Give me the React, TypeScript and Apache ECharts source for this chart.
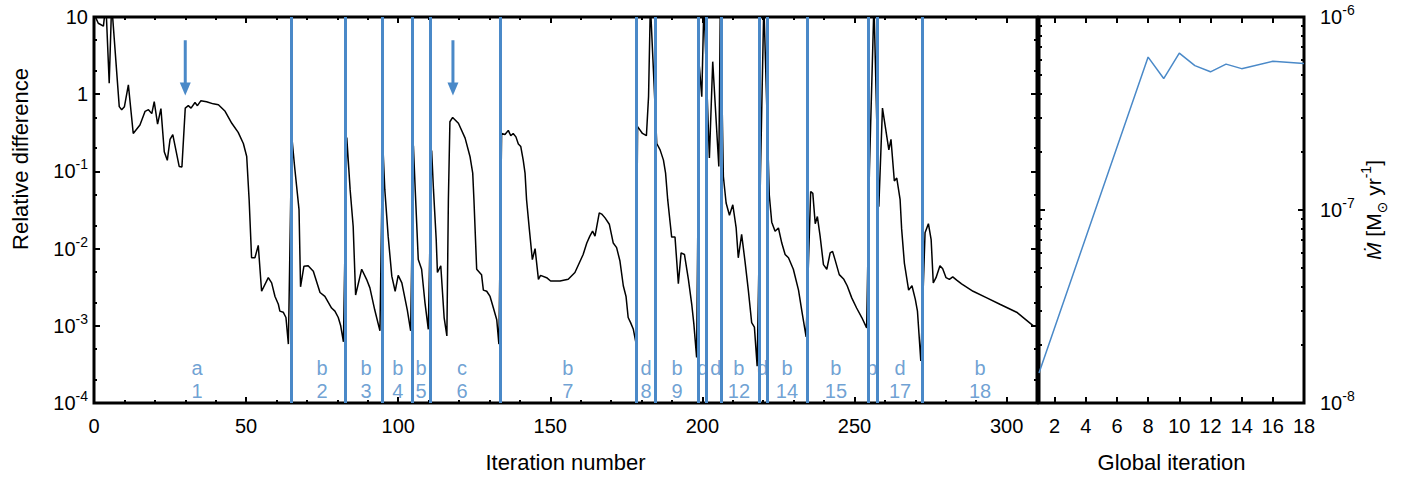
import React, { useEffect, useRef } from 'react';
import * as echarts from 'echarts';

const BLUE = '#4a89c8';
const FONT = "'Liberation Sans', Arial, Helvetica, 'DejaVu Sans', sans-serif";

// Relative difference vs iteration number, segments 1-6
const relDiffA: [number, number][] = [
  [0, 11], [1.4, 8.3], [3.1, 7.6], [3.9, 15], [5, 1.39], [5.8, 15], [8.3, 0.69], [9.1, 0.63], [10, 0.69], [11.3, 1.32],
  [12.9, 0.31], [15.1, 0.4], [16.8, 0.6], [17.9, 0.63], [19, 0.56], [19.8, 0.8], [20.9, 0.41], [22, 0.65], [23.1, 0.18], [24.1, 0.139],
  [25, 0.26], [25.9, 0.3], [28, 0.116], [28.9, 0.114], [30, 0.66], [31, 0.71], [31.9, 0.66], [33.2, 0.78], [34, 0.71], [35.1, 0.82],
  [37, 0.8], [39.2, 0.75], [40.9, 0.73], [43.1, 0.6], [45.3, 0.42], [47.4, 0.32], [49.1, 0.23], [50.2, 0.156], [51, 0.043], [51.8, 0.0076],
  [52.9, 0.0076], [54, 0.011], [55.1, 0.0028], [57.3, 0.0042], [58.4, 0.0036], [59.5, 0.0024], [60.6, 0.0019], [61.1, 0.00155], [62.2, 0.0015], [63.1, 0.00128],
  [63.9, 0.00058],
  [65, 0.29], [66, 0.11], [67.4, 0.032], [67.9, 0.0032], [69, 0.0059], [70.4, 0.006], [72.1, 0.0051], [74.3, 0.0027], [75.9, 0.0024], [78.1, 0.0017],
  [79.2, 0.00155], [80.3, 0.00128], [81.1, 0.001], [82, 0.00062],
  [83.1, 0.275], [84.2, 0.058], [85.2, 0.0195], [86, 0.0025], [88, 0.0054], [89.6, 0.004], [90.7, 0.0031], [92.3, 0.0016], [94, 0.00086],
  [94.9, 0.244], [95.6, 0.058], [96.7, 0.0145], [97.9, 0.0044], [99, 0.0028], [100, 0.0045], [101.2, 0.0036], [103, 0.0016], [104.1, 0.00086],
  [105, 0.215], [105.6, 0.058], [106.6, 0.0072], [107.7, 0.0054], [108.8, 0.002], [109.9, 0.0009],
  [111, 0.187], [111.6, 0.058], [112.5, 0.013], [112.9, 0.0049], [114, 0.006], [115.1, 0.00128], [116, 0.00074], [116.5, 0.043], [117, 0.44], [117.9, 0.5],
  [119.8, 0.42], [122, 0.27], [123.6, 0.156], [124.5, 0.095], [124.9, 0.043], [125.8, 0.0054], [127.4, 0.0046], [128, 0.0029], [129.1, 0.0028], [130.2, 0.0024],
  [131.3, 0.0017], [132.4, 0.0012], [133.1, 0.00058],
];

// segments 7-12
const relDiffB: [number, number][] = [
  [134, 0.31], [135.1, 0.3], [136.2, 0.34], [137, 0.29], [137.8, 0.31], [138.7, 0.28], [139.5, 0.227], [140.3, 0.21], [141.1, 0.14], [141.7, 0.095],
  [142.2, 0.043], [143.1, 0.018], [144.1, 0.0072], [145, 0.01], [146.1, 0.004], [146.8, 0.0045], [148.8, 0.0042], [150.1, 0.0038], [153.2, 0.0038], [155.9, 0.004],
  [158.1, 0.0049], [160.8, 0.0084], [162, 0.0118], [163, 0.0145], [163.9, 0.0168], [164.7, 0.0145], [166.1, 0.029], [166.9, 0.028], [168, 0.025], [169.4, 0.0207],
  [170.7, 0.0118], [171.8, 0.0103], [172.9, 0.0069], [174, 0.0033], [174.9, 0.0024], [175.6, 0.00128], [176.4, 0.0011], [177.3, 0.0009], [178.1, 0.00062],
  [178.7, 0.38], [180.3, 0.31], [181.6, 0.29], [182.3, 0.93], [182.9, 15],
  [185, 0.23], [186.1, 0.19], [187.2, 0.14], [187.9, 0.095], [188.6, 0.043], [189.4, 0.0216], [189.9, 0.0141], [191, 0.0141], [192.1, 0.0035], [193, 0.0088],
  [194.1, 0.0084], [195.4, 0.004], [196.5, 0.0019], [197.2, 0.00105], [198.1, 0.00039],
  [199, 2.3], [199.8, 0.93], [200.5, 15],
  [202.3, 0.149], [203.4, 2.64], [205.4, 0.116], [205.9, 15],
  [206.9, 0.086], [207.8, 0.039], [208.9, 0.027], [210, 0.037], [211.1, 0.0185], [211.8, 0.0076], [212.9, 0.0153], [214, 0.0069], [215.1, 0.0029], [216.2, 0.0011],
  [217.1, 0.00096], [218, 0.0003],
];

// segments 13-18
const relDiffC: [number, number][] = [
  [219.1, 0.095], [220.2, 15],
  [222, 0.049], [222.8, 0.022], [223.9, 0.0168], [225, 0.0185], [226.1, 0.0118], [227.2, 0.0084], [228.3, 0.0076], [229.9, 0.0054], [231.6, 0.0029], [232.7, 0.00155],
  [234.1, 0.00072],
  [235.6, 0.055], [236.3, 0.052], [237.1, 0.021], [237.8, 0.026], [238.7, 0.0145], [239.8, 0.0062], [240.9, 0.0054], [242, 0.0088], [242.8, 0.0092], [243.6, 0.0072],
  [245, 0.0046], [246.5, 0.004], [247.6, 0.0033], [249.1, 0.0023], [250.7, 0.0017], [252.4, 0.00128], [254, 0.00094],
  [254.9, 0.1], [256.4, 15],
  [258, 0.035], [259.2, 0.66], [261.3, 0.19], [262, 0.26], [263.1, 0.075], [263.9, 0.082], [265, 0.043], [265.5, 0.018], [266.4, 0.0065], [267.8, 0.0029],
  [268.9, 0.0033], [270, 0.0022], [270.7, 0.00155], [271.8, 0.00035],
  [273.2, 0.016], [274.3, 0.021], [275.2, 0.0131], [275.9, 0.0036], [276.8, 0.0042], [278.1, 0.006], [279, 0.0055], [280.1, 0.0042], [281.2, 0.004], [282.3, 0.0043],
  [283.6, 0.0039], [285.2, 0.0035], [289, 0.0028], [293.5, 0.0023], [297.8, 0.0019], [303.3, 0.0015], [308.8, 0.001],
];

// iterations at which a new sub-iteration starts (blue vertical lines)
const restartIter = [64.7, 82.5, 94.6, 104.6, 110.5, 133.7, 178.4, 184.4, 198.6, 201.4, 206.3, 218.7, 221.2, 234.5, 254.5, 257.5, 272.4];

// segment labels
const segLabelIter = [33.9, 75, 89.4, 99.9, 107.5, 121, 155.8, 181.5, 191.7, 200.1, 204.4, 212, 219.8, 227.8, 243.9, 255.7, 265, 291.3];
const segLetters = ['a', 'b', 'b', 'b', 'b', 'c', 'b', 'd', 'b', 'd', 'd', 'b', 'd', 'b', 'b', 'b', 'd', 'b'];
const segNumbers = ['1', '2', '3', '4', '5', '6', '7', '8', '9', '', '', '12', '', '14', '15', '', '17', '18'];
const SEG_LABEL_VALUE = 2e-4;

// arrows
const arrowIter = [30, 118];
const ARROW_FROM = 5;
const ARROW_TO = 1.17;

// right panel: mass-loss rate vs global iteration
const globalIter = [1, 8, 9, 10, 11, 12, 13, 14, 16, 18];
const massLoss = [1.43e-8, 6.2e-7, 4.8e-7, 6.5e-7, 5.6e-7, 5.2e-7, 5.7e-7, 5.4e-7, 5.9e-7, 5.75e-7];

// ticks
const iterMajorTicks = [0, 50, 100, 150, 200, 250, 300];
const iterMinorTicks = [10, 20, 30, 40, 60, 70, 80, 90, 110, 120, 130, 140, 160, 170, 180, 190, 210, 220, 230, 240, 260, 270, 280, 290];
const globalTicks = [2, 4, 6, 8, 10, 12, 14, 16, 18];
const relMinorTicks = [2e-4, 5e-4, 2e-3, 5e-3, 0.02, 0.05, 0.2, 0.5, 2, 5];
const mdotMinorTicks = [2e-8, 3e-8, 4e-8, 5e-8, 6e-8, 7e-8, 8e-8, 9e-8, 2e-7, 3e-7, 4e-7, 5e-7, 6e-7, 7e-7, 8e-7, 9e-7];

const powRich = {
  b: { fontSize: 20, lineHeight: 28, color: '#000', fontFamily: FONT },
  s: { fontSize: 14, lineHeight: 14, verticalAlign: 'top', color: '#000', fontFamily: FONT },
};
const fmtPow = (v: number) => {
  const e = Math.round(Math.log10(v));
  if (e === 1) return '{b|10}';
  if (e === 0) return '{b|1}';
  return `{b|10}{s|${e}}`;
};

const tick = (len: number, custom?: number[]) => ({
  show: true,
  inside: true,
  length: len,
  lineStyle: { color: '#000', width: 2 },
  ...(custom ? { customValues: custom } : {}),
});

const common = {
  axisLine: { show: false, onZero: false },
  splitLine: { show: false },
  minorTick: { show: false },
  minorSplitLine: { show: false },
};

function xAx(gridIndex: number, position: string, min: number, max: number, ticks: number[], len: number, extra: any = {}) {
  return {
    ...common,
    type: 'value',
    gridIndex,
    position,
    min,
    max,
    axisTick: tick(len, ticks),
    axisLabel: { show: false },
    ...extra,
  };
}

function yAx(gridIndex: number, position: string, min: number, max: number, ticks: number[] | undefined, len: number, extra: any = {}) {
  return {
    ...common,
    type: 'log',
    logBase: 10,
    gridIndex,
    position,
    min,
    max,
    axisTick: tick(len, ticks),
    axisLabel: { show: false },
    ...extra,
  };
}

const nameStyle = { fontSize: 22, color: '#000', fontFamily: FONT };

export default function App() {
  const ref = useRef<HTMLDivElement>(null);
  useEffect(() => {
    const chart = echarts.init(ref.current!, null, { renderer: 'svg' });
    const curve = [...relDiffA, ...relDiffB, ...relDiffC];
    const arrowSeries = arrowIter.map((x) => ({
      type: 'line',
      xAxisIndex: 0,
      yAxisIndex: 0,
      silent: true,
      z: 6,
      showSymbol: true,
      showAllSymbol: true,
      data: [
        { value: [x, ARROW_FROM], symbol: 'none' },
        { value: [x, ARROW_TO], symbol: 'triangle', symbolSize: [11, 13], symbolRotate: 180 },
      ],
      lineStyle: { color: BLUE, width: 3 },
      itemStyle: { color: BLUE, borderWidth: 0 },
    }));
    const option: any = {
      animation: false,
      backgroundColor: '#fff',
      grid: [
        { left: 94, right: 376, top: 17, bottom: 74, show: true, borderColor: '#000', borderWidth: 3, backgroundColor: 'transparent', outerBoundsMode: 'none' },
        { left: 1039, right: 109, top: 17, bottom: 74, show: true, borderColor: '#000', borderWidth: 3, backgroundColor: 'transparent', outerBoundsMode: 'none' },
      ],
      graphic: [
        {
          type: 'text',
          x: 20,
          y: 159,
          rotation: Math.PI / 2,
          style: { text: 'Relative difference', fontSize: 22, fontFamily: FONT, fill: '#000', textAlign: 'center', textVerticalAlign: 'middle' },
        },
      ],
      xAxis: [
        xAx(0, 'bottom', 0, 310, iterMajorTicks, 6, {
          axisLabel: { show: true, customValues: iterMajorTicks, fontSize: 20, lineHeight: 20, color: '#000', fontFamily: FONT, margin: 13 },
          name: 'Iteration number',
          nameLocation: 'middle',
          nameGap: 48,
          nameTextStyle: nameStyle,
        }),
        xAx(0, 'bottom', 0, 310, iterMinorTicks, 3),
        xAx(0, 'top', 0, 310, iterMajorTicks, 6),
        xAx(0, 'top', 0, 310, iterMinorTicks, 3),
        xAx(1, 'bottom', 1, 18, globalTicks, 6, {
          axisLabel: { show: true, customValues: globalTicks, fontSize: 20, lineHeight: 20, color: '#000', fontFamily: FONT, margin: 13 },
          name: 'Global iteration',
          nameLocation: 'middle',
          nameGap: 48,
          nameTextStyle: nameStyle,
        }),
        xAx(1, 'top', 1, 18, globalTicks, 6),
      ],
      yAxis: [
        yAx(0, 'left', 1e-4, 10, undefined, 6, {
          axisLabel: { show: true, formatter: fmtPow, rich: powRich, margin: 6, color: '#000', fontFamily: FONT },
        }),
        yAx(0, 'left', 1e-4, 10, relMinorTicks, 3),
        yAx(0, 'right', 1e-4, 10, undefined, 6),
        yAx(0, 'right', 1e-4, 10, relMinorTicks, 3),
        yAx(1, 'right', 1e-8, 1e-6, undefined, 6, {
          axisLabel: { show: true, formatter: fmtPow, rich: powRich, margin: 16, color: '#000', fontFamily: FONT },
          name: '{i|Ṁ} [M{sub|⊙} yr{sup|-1}]',
          nameLocation: 'middle',
          nameRotate: 90,
          nameGap: 52,
          nameTextStyle: {
            ...nameStyle,
            fontSize: 21,
            lineHeight: 30,
            rich: {
              i: { fontSize: 21, fontStyle: 'italic', lineHeight: 30, color: '#000', fontFamily: FONT },
              sub: { fontSize: 14, lineHeight: 14, verticalAlign: 'bottom', color: '#000', fontFamily: FONT },
              sup: { fontSize: 14, lineHeight: 14, verticalAlign: 'top', color: '#000', fontFamily: FONT },
            },
          },
        }),
        yAx(1, 'right', 1e-8, 1e-6, mdotMinorTicks, 3),
        yAx(1, 'left', 1e-8, 1e-6, undefined, 6),
        yAx(1, 'left', 1e-8, 1e-6, mdotMinorTicks, 3),
      ],
      series: [
        {
          type: 'line',
          xAxisIndex: 0,
          yAxisIndex: 0,
          data: curve,
          symbol: 'none',
          showSymbol: false,
          silent: true,
          lineStyle: { color: '#000', width: 1.5 },
          itemStyle: { color: '#000' },
          z: 2,
          markLine: {
            silent: true,
            symbol: ['none', 'none'],
            label: { show: false },
            emphasis: { disabled: true },
            lineStyle: { color: BLUE, width: 3, type: 'solid' },
            data: restartIter.map((v) => ({ xAxis: v })),
          },
        },
        {
          type: 'scatter',
          xAxisIndex: 0,
          yAxisIndex: 0,
          symbolSize: 0,
          silent: true,
          data: segLabelIter.map((x, i) => ({ value: [x, SEG_LABEL_VALUE], name: segLetters[i] + '\n' + segNumbers[i] })),
          label: { show: true, position: 'inside', formatter: '{b}', color: BLUE, fontSize: 20, lineHeight: 23, fontFamily: FONT },
          z: 4,
        },
        ...arrowSeries,
        {
          type: 'line',
          xAxisIndex: 4,
          yAxisIndex: 4,
          data: globalIter.map((g, i) => [g, massLoss[i]]),
          symbol: 'none',
          showSymbol: false,
          silent: true,
          lineStyle: { color: BLUE, width: 1.5 },
          itemStyle: { color: BLUE },
        },
      ],
    };
    chart.setOption(option);
    return () => chart.dispose();
  }, []);
  return <div ref={ref} style={{ position: 'absolute', left: 0, top: 0, width: 1413, height: 477 }} />;
}
